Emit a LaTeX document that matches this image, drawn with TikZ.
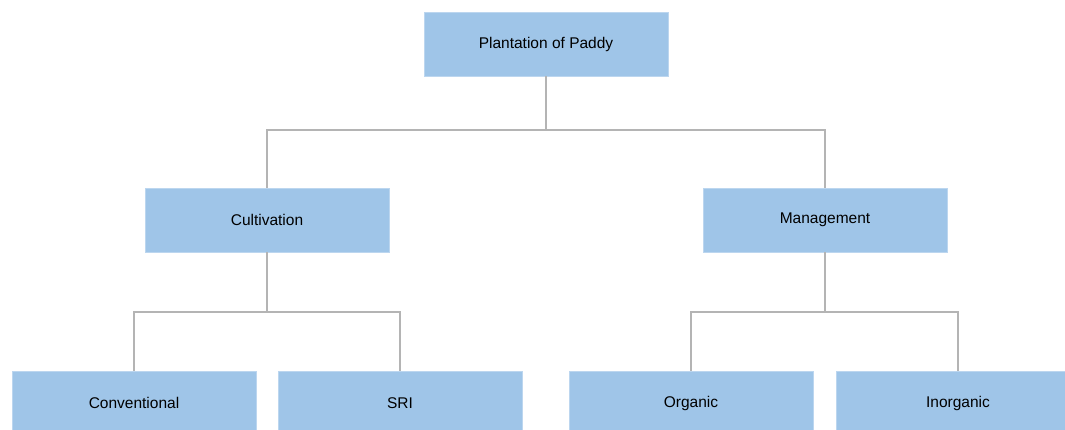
\documentclass[tikz,border=0pt]{standalone}
\usepackage{fontspec}
\setmainfont{Liberation Sans}
\definecolor{boxblue}{HTML}{9FC5E8}
\definecolor{linkgray}{HTML}{B4B4B4}
\begin{document}
\begin{tikzpicture}[
  x=1pt,y=-1pt,
  box/.style={draw=boxblue!70!white, fill=boxblue, line width=0.6pt, align=center,
    minimum width=244pt, minimum height=64pt, inner sep=0pt,
    font=\fontsize{15.5}{18}\selectfont},
  link/.style={draw=linkgray, line width=2.2pt}
]
\useasboundingbox (0,0) rectangle (1065,429);
\clip (0,0) rectangle (1065,429);

\node[box] (plant) at (546,44) {Plantation of Paddy};
\node[box] (cult) at (267,220) {Cultivation};
\node[box] (mgmt) at (825,220) {Management};

\node[box] (conv) at (134,403) {Conventional};
\node[box] (sri) at (400,403) {SRI};
\node[box] (org) at (691,403) {Organic};
\node[box] (inorg) at (958,403) {Inorganic};

\coordinate (busA) at (546,130);
\coordinate (busB) at (267,312);
\coordinate (busC) at (825,312);

\draw[link] (plant) -- (busA);
\draw[link] (busA) -| (cult);
\draw[link] (busA) -| (mgmt);

\draw[link] (cult) -- (busB);
\draw[link] (busB) -| (conv);
\draw[link] (busB) -| (sri);

\draw[link] (mgmt) -- (busC);
\draw[link] (busC) -| (org);
\draw[link] (busC) -| (inorg);
\end{tikzpicture}
\end{document}
